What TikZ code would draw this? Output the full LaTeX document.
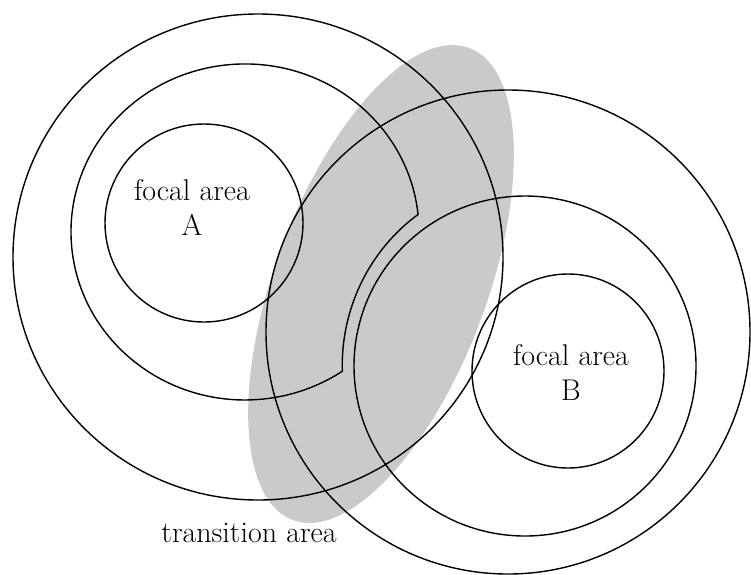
\documentclass[tikz,border=0pt]{standalone}
\usepackage{fontspec}
\definecolor{transgray}{RGB}{202,202,202}
\begin{document}
\begin{tikzpicture}[x=1pt,y=1pt,
  ring/.style={draw=black, line width=1.4pt},
  transfill/.style={fill=transgray, draw=none},
  lbl/.style={align=center, inner sep=0pt, font=\fontsize{30}{35}\selectfont\addfontfeature{LetterSpace=2}}]
\useasboundingbox (0,0) rectangle (751,-574);
% transition area
\fill[transfill, rotate around={-20.5:(381,-284)}] (381,-284) ellipse[x radius=106, y radius=252];
% area A
\draw[ring] (258,-257) ellipse[x radius=245, y radius=243];
\draw[ring] (418.05,-214.4) arc[start angle=6, end angle=304, x radius=174, y radius=168]
  arc[start angle=181.7, end angle=125.4, x radius=181.3, y radius=186] -- cycle;
\draw[ring] (204,-223) ellipse[x radius=99, y radius=99];
% area B
\draw[ring] (508,-332) ellipse[x radius=242, y radius=242];
\draw[ring] (525,-366) ellipse[x radius=171, y radius=170];
\draw[ring] (568,-371) ellipse[x radius=96, y radius=97];
% labels
\node[lbl] (fa) at (192,-207) {focal area\\A};
\node[lbl] (fb) at (571,-372) {focal area\\B};
\node[lbl] (ta) at (249,-533) {transition area};
\end{tikzpicture}
\end{document}
